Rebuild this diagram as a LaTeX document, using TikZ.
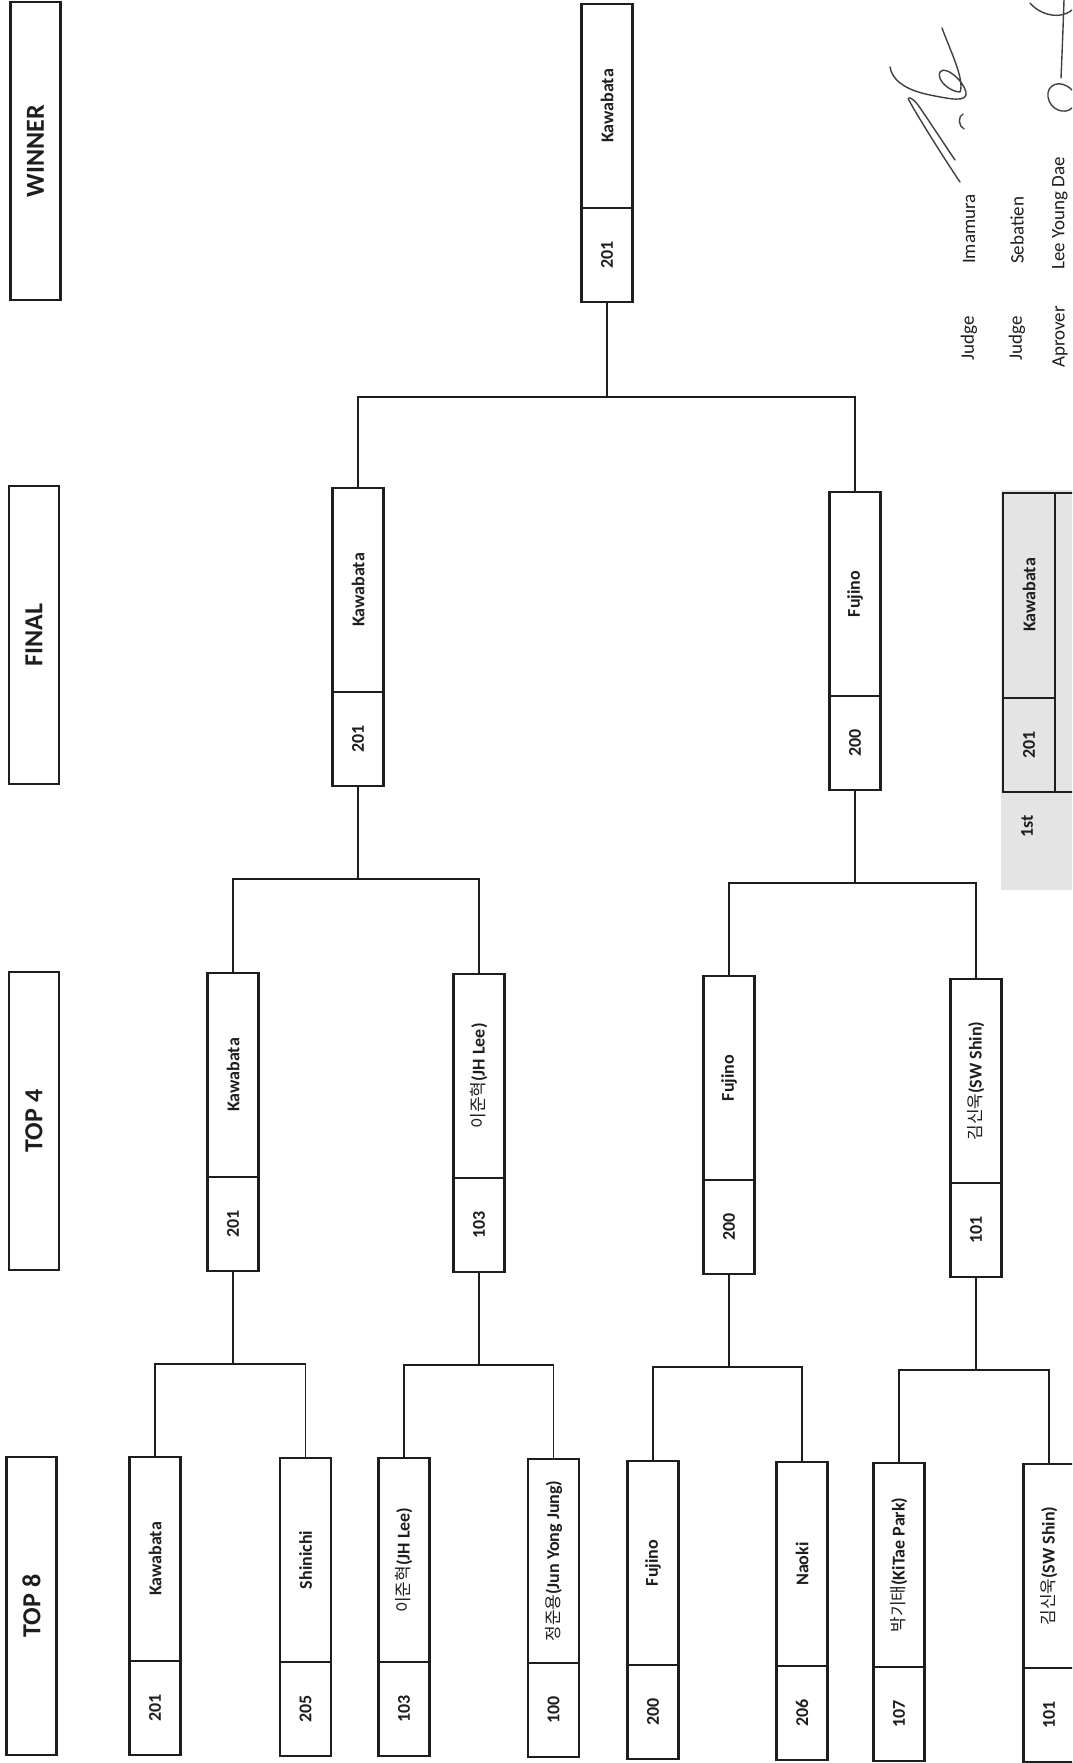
\documentclass[tikz,border=0pt]{standalone}
\usepackage{fontspec}
\setmainfont{Carlito}
\newfontfamily\krfont{Noto Sans CJK KR}
\definecolor{ink}{HTML}{1E1E1E}
\definecolor{tablegray}{HTML}{E4E4E4}
\newcommand\kr[1]{{\krfont\mdseries\fontsize{17}{18}\selectfont #1}}
\newcommand\plbox[5]{%
  \node[boxst] (#1) at (#2,#3+149) {};
  \draw[divst] (#2-25.5,#3+204) -- (#2+25.5,#3+204);
  \node[lbl] (#1-name) at (#2,#3+102) {#5};
  \node[lbl] (#1-num) at (#2,#3+251) {#4};
}
\begin{document}
\begin{tikzpicture}[x=1pt,y=-1pt,
  every node/.style={font=\bfseries\fontsize{18}{20}\selectfont, text=ink},
  boxst/.style={draw=ink, line width=2.6pt, rectangle, minimum width=51pt, minimum height=298pt, inner sep=0pt},
  hdrst/.style={draw=ink, line width=2.6pt, rectangle, rotate=90, minimum width=298pt, minimum height=50pt, inner sep=0pt, font=\bfseries\fontsize{26}{28}\selectfont},
  divst/.style={draw=ink, line width=1.4pt},
  conn/.style={draw=ink, line width=1.5pt},
  lbl/.style={rotate=90, inner sep=0pt},
  sig/.style={draw=ink!85, line width=1.4pt, line cap=round, line join=round},
  plaintext/.style={rotate=90, anchor=west, inner sep=0pt, font=\mdseries\fontsize{19}{20}\selectfont}
]
\useasboundingbox (0,0) rectangle (1072,1763);
\clip (0,0) rectangle (1072,1763);
\fill[white] (0,0) rectangle (1072,1763);

% headers
\node[hdrst] (hW) at (35.5,151) {WINNER};
\node[hdrst] (hF) at (34,635) {FINAL};
\node[hdrst] (h4) at (34,1121) {TOP 4};
\node[hdrst] (h8) at (31.5,1606) {TOP 8};

% players
\plbox{w}{607}{4}{201}{Kawabata}
\plbox{fk}{358}{488}{201}{Kawabata}
\plbox{ff}{855}{492}{200}{Fujino}
\plbox{qk}{233}{973}{201}{Kawabata}
\plbox{qj}{479}{974}{103}{\kr{이준혁}(JH Lee)}
\plbox{qf}{729}{976}{200}{Fujino}
\plbox{qs}{976}{979}{101}{\kr{김신욱}(SW Shin)}
\plbox{ek}{155}{1457}{201}{Kawabata}
\plbox{es}{305.5}{1458}{205}{Shinichi}
\plbox{ej}{404}{1458}{103}{\kr{이준혁}(JH Lee)}
\plbox{eu}{553.5}{1459}{100}{\kr{정준용}(Jun Yong Jung)}
\plbox{ef}{653}{1461}{200}{Fujino}
\plbox{en}{802}{1462}{206}{Naoki}
\plbox{ep}{899}{1463}{107}{\kr{박기태}(KiTae Park)}
\plbox{ew}{1049}{1464}{101}{\kr{김신욱}(SW Shin)}

% bracket levels
\coordinate (l1) at (0,1364);
\coordinate (l2) at (0,1365);
\coordinate (l3) at (0,1367);
\coordinate (l4) at (0,1370);
\coordinate (m1) at (0,879);
\coordinate (m2) at (0,883);
\coordinate (t1) at (0,397);

\draw[conn] (ek.north) -- (ek.north |- l1) -- (es.north |- l1) -- (es.north);
\draw[conn] (qk.south) -- (qk.south |- l1);
\draw[conn] (ej.north) -- (ej.north |- l2) -- (eu.north |- l2) -- (eu.north);
\draw[conn] (qj.south) -- (qj.south |- l2);
\draw[conn] (ef.north) -- (ef.north |- l3) -- (en.north |- l3) -- (en.north);
\draw[conn] (qf.south) -- (qf.south |- l3);
\draw[conn] (ep.north) -- (ep.north |- l4) -- (ew.north |- l4) -- (ew.north);
\draw[conn] (qs.south) -- (qs.south |- l4);

\draw[conn] (qk.north) -- (qk.north |- m1) -- (qj.north |- m1) -- (qj.north);
\draw[conn] (fk.south) -- (fk.south |- m1);
\draw[conn] (qf.north) -- (qf.north |- m2) -- (qs.north |- m2) -- (qs.north);
\draw[conn] (ff.south) -- (ff.south |- m2);

\draw[conn] (fk.north) -- (fk.north |- t1) -- (ff.north |- t1) -- (ff.north);
\draw[conn] (w.south) -- (w.south |- t1);

% result table
\fill[tablegray] (1001,490) rectangle (1080,890);
\draw[ink, line width=2.4pt] (1003,493) rectangle (1085,792);
\draw[ink, line width=2pt] (1055,493) -- (1055,792);
\draw[divst] (1003,698) -- (1055,698);
\node[lbl] (r1name) at (1029,595) {Kawabata};
\node[lbl] (r1num) at (1029,745) {201};
\node[lbl] (r1rank) at (1027,826) {1st};

% judges
\node[plaintext] (ja1) at (969,361) {Judge};
\node[plaintext] (jb1) at (969,264) {Imamura};
\node[plaintext] (ja2) at (1017,361) {Judge};
\node[plaintext] (jb2) at (1017,264) {Sebatien};
\node[plaintext] (ja3) at (1060,368) {Aprover};
\node[plaintext] (jb3) at (1060,270) {Lee Young Dae};

% signatures
\draw[sig] (960,182) .. controls (945,160) and (915,112) .. (910,102)
  .. controls (905,95) and (912,97) .. (918,105)
  .. controls (930,122) and (948,150) .. (955,160);
\draw[sig] (890,67) .. controls (892,80) and (905,90) .. (930,95)
  .. controls (950,99) and (968,103) .. (966,92)
  .. controls (963,80) and (945,65) .. (940,72)
  .. controls (936,80) and (950,92) .. (960,92)
  .. controls (965,80) and (950,50) .. (942,28);
\draw[sig] (963,114) .. controls (958,116) and (958,126) .. (964,129);
\draw[sig] (1072,90) .. controls (1060,78) and (1046,85) .. (1048,97)
  .. controls (1050,110) and (1065,115) .. (1072,108);
\draw[sig] (1030,3) .. controls (1040,15) and (1060,20) .. (1072,10);
\draw[sig] (1064,0) .. controls (1063,30) and (1062,55) .. (1061,78);
\end{tikzpicture}
\end{document}
